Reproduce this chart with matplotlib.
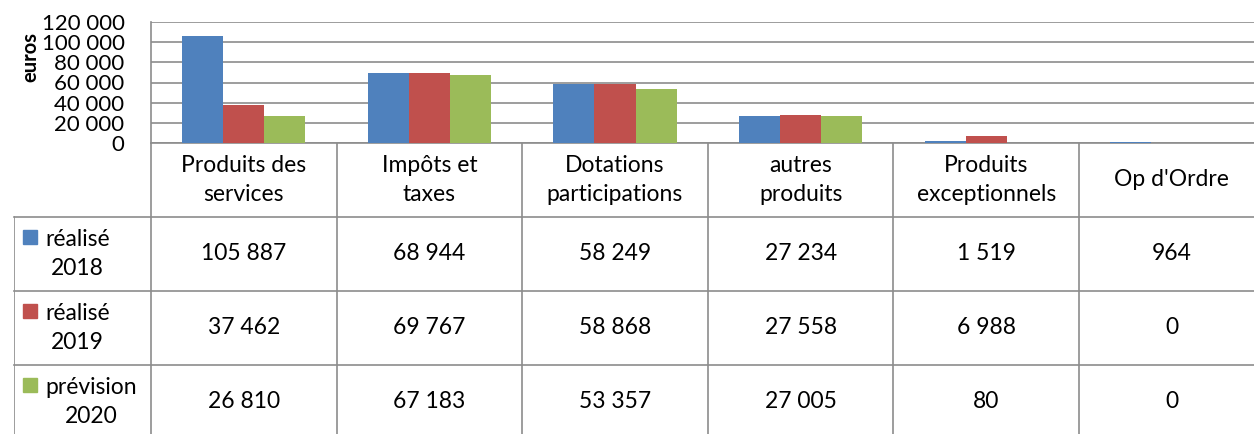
import numpy as np
import matplotlib
matplotlib.use("Agg")
import matplotlib.pyplot as plt
from matplotlib.patches import Rectangle

# Données
categories = ["Produits des\nservices", "Impôts et\ntaxes", "Dotations\nparticipations",
              "autres\nproduits", "Produits\nexceptionnels", "Op d'Ordre"]
series_names = ["réalisé\n2018", "réalisé\n2019", "prévision\n2020"]
realise_2018 = [105887, 68944, 58249, 27234, 1519, 964]
realise_2019 = [37462, 69767, 58868, 27558, 6988, 0]
prevision_2020 = [26810, 67183, 53357, 27005, 80, 0]
yticks = [0, 20000, 40000, 60000, 80000, 100000, 120000]

series = [realise_2018, realise_2019, prevision_2020]
colors = ["#4F81BD", "#C0504D", "#9BBB59"]
grid_col = "#8C8C8C"

plt.rcParams['font.family'] = ['Lato', 'DejaVu Sans']

W, H = 1254, 434
fig = plt.figure(figsize=(W / 100, H / 100), dpi=100)

def fx(px):
    return px / W

def fy(py):
    return 1 - py / H

col_w = 185.6
x0 = 151
x_right = x0 + 6 * col_w

# Graphique
ax = fig.add_axes([fx(x0), fy(143), fx(x_right - x0), fy(22) - fy(143)])
n = len(categories)
x = np.arange(n)
bw = 0.221
for i, (vals, c) in enumerate(zip(series, colors)):
    ax.bar(x + (i - 1) * bw, vals, width=bw, color=c, zorder=3)
ax.set_xlim(-0.5, n - 0.5)
ax.set_ylim(0, 120000)
ax.set_yticks(yticks)
ax.set_yticklabels([f"{v:,}".replace(",", " ") for v in yticks], fontsize=16)
ax.tick_params(axis='y', length=0, pad=19)
ax.set_xticks([])
ax.grid(axis='y', color=grid_col, linewidth=1.2, zorder=0)
for s in ['top', 'right']:
    ax.spines[s].set_visible(False)
ax.spines['left'].set_color(grid_col)
ax.spines['bottom'].set_color(grid_col)
ax.spines['left'].set_linewidth(1.2)
ax.spines['bottom'].set_linewidth(1.2)
fig.text(fx(30), fy(57), "euros", rotation=90, ha='center', va='center',
         fontsize=14.5, fontweight='bold')

# Tableau de données
row_h = 74
t_left = 14
tab = fig.add_axes([fx(t_left), fy(143 + 4 * row_h), fx(x_right - t_left),
                    fy(143) - fy(143 + 4 * row_h)])
xl = -0.5 - (x0 - t_left) / col_w
tab.set_xlim(xl, n - 0.5)
tab.set_ylim(4, 0)
tab.axis('off')
lw = 1.2
for r in [1, 2, 3]:
    tab.plot([xl, n - 0.5], [r, r], color=grid_col, lw=lw, clip_on=False)
tab.plot([-0.5, -0.5], [0, 4], color=grid_col, lw=lw)
tab.plot([xl, xl], [1, 4], color=grid_col, lw=lw)
for k in range(1, n):
    tab.plot([k - 0.5, k - 0.5], [0, 4], color=grid_col, lw=lw)

fs = 16.5
for j, cat in enumerate(categories):
    tab.text(j, 0.5, cat, ha='center', va='center', fontsize=fs, linespacing=1.5)
for i, (vals, name, c) in enumerate(zip(series, series_names, colors)):
    for j, v in enumerate(vals):
        tab.text(j, i + 1.5, f"{v:,}".replace(",", " "), ha='center', va='center',
                 fontsize=fs)
    tab.add_patch(Rectangle((xl + 9 / col_w, i + 1 + 13 / row_h), 14 / col_w, 14 / row_h,
                            color=c, clip_on=False))
    tab.text(xl + 31 / col_w, i + 1.5, name, ha='left', va='center', fontsize=fs,
             multialignment='center', linespacing=1.5)

plt.savefig("out.png", dpi=100)
